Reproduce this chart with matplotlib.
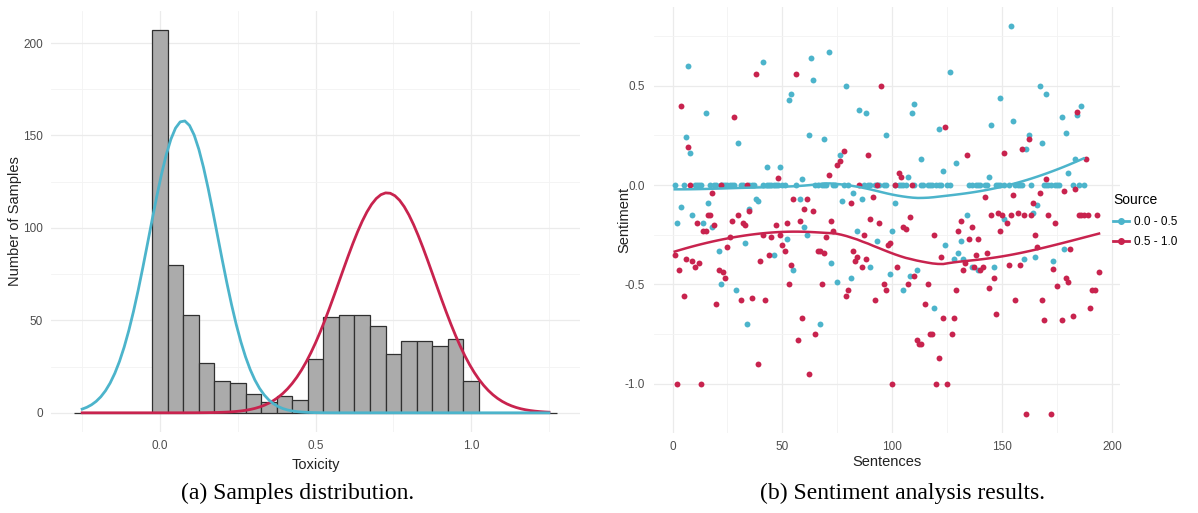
import numpy as np
import matplotlib
matplotlib.use("Agg")
from matplotlib import pyplot as plt
from matplotlib.lines import Line2D

# ---- left panel: toxicity histogram (bin width 0.05) ----
bin_centers = np.round(np.arange(-0.25, 1.2501, 0.05), 3)
bin_counts = [0, 0, 0, 0, 0,
              207, 80, 53, 27, 17, 16, 10, 6, 9, 7,
              29, 52, 53, 53, 47, 32, 39, 39, 36, 40, 17,
              0, 0, 0, 0, 0]

# fitted normal curves (mean, sd, peak height)
low_fit = (0.075, 0.11, 158)
high_fit = (0.73, 0.152, 119)

# ---- right panel: sentiment per sentence ----
blue_pts = [(7, 0.60), (41, 0.62), (63, 0.64), (71, 0.67), (154, 0.80), (126, 0.57), (64, 0.53),
            (54, 0.46), (53, 0.43), (79, 0.50), (15, 0.36), (85, 0.38), (88, 0.36), (110, 0.41),
            (109, 0.36), (167, 0.50), (170, 0.46), (149, 0.44), (155, 0.32), (145, 0.30), (177, 0.34),
            (186, 0.40), (184, 0.35), (6, 0.24), (8, 0.16), (30, 0.21), (62, 0.25), (69, 0.23),
            (97, 0.25), (121, 0.28), (162, 0.25), (179, 0.26), (168, 0.21), (76, 0.15), (113, 0.13),
            (161, 0.18), (183, 0.13), (43, 0.09), (49, 0.09), (59, 0.03), (107, 0.04), (123, 0.07),
            (129, 0.11), (144, 0.04), (180, 0.06),
            (2, -0.19), (4, -0.11), (9, -0.15), (16, -0.09), (14, -0.19), (18, -0.21), (21, -0.33),
            (22, -0.50), (29, -0.53), (35, -0.12), (33, -0.29), (34, -0.70), (38, -0.07), (39, -0.08),
            (46, -0.35), (52, -0.27), (55, -0.43), (58, -0.07), (60, -0.21), (61, -0.25), (67, -0.70),
            (72, -0.39), (75, -0.49), (81, -0.47), (82, -0.04), (77, -0.08), (84, -0.23), (86, -0.07),
            (90, -0.41), (93, -0.28), (99, -0.45), (100, -0.23), (101, -0.09), (105, -0.53), (108, -0.46),
            (111, -0.43), (119, -0.62), (124, -0.30), (128, -0.37), (130, -0.34), (131, -0.28),
            (132, -0.37), (134, -0.15), (136, -0.41), (139, -0.43), (146, -0.41), (151, -0.17),
            (160, -0.37), (164, -0.14), (166, -0.10), (165, -0.36), (173, -0.38), (178, -0.32)]
blue_zero_x = [1, 5, 10, 11, 12, 13, 17, 19, 20, 22, 23, 24, 25, 26, 27, 28, 31, 32, 35, 36, 37,
               41, 43, 44, 45, 46, 47, 48, 50, 51, 56, 65, 66, 68, 69, 70, 73, 74, 78, 80, 87, 89,
               90, 92, 93, 94, 96, 97, 101, 103, 104, 105, 106, 110, 113, 114, 116, 117, 118, 120,
               121, 122, 125, 126, 135, 136, 138, 139, 140, 142, 143, 147, 148, 149, 151, 153, 156,
               157, 158, 159, 163, 169, 170, 171, 172, 174, 175, 176, 182, 185, 187]

red_pts = [(4, 0.40), (7, 0.19), (8, 0.0), (1, -0.35), (2, -1.0), (3, -0.43), (5, -0.56), (6, -0.37),
           (9, -0.38), (10, -0.41), (11, -0.19), (12, -0.39), (13, -1.0), (14, -0.23), (15, -0.23),
           (16, -0.15), (17, -0.15), (18, -0.04), (19, -0.20), (20, -0.60), (21, -0.43), (22, 0.0),
           (23, -0.44), (24, -0.47), (25, -0.31), (26, -0.26), (27, -0.18), (28, 0.34), (30, -0.15),
           (31, -0.58), (32, -0.19), (33, -0.20), (34, 0.0), (35, -0.13), (36, -0.57), (38, 0.56),
           (39, -0.90), (40, -0.38), (41, -0.25), (42, -0.58), (44, -0.35), (45, -0.26), (47, -0.20),
           (48, 0.035), (49, -0.25), (50, -0.30), (51, -0.33), (52, -0.19), (53, -0.50), (54, -0.40),
           (55, -0.07), (56, 0.56), (57, -0.78), (58, -0.18), (59, -0.67), (60, -0.12), (61, -0.07),
           (62, -0.95), (64, -0.13), (65, -0.75), (66, -0.33), (67, -0.33), (68, -0.50), (69, -0.34),
           (70, -0.26), (71, 0.05), (72, -0.18), (73, -0.23), (75, 0.10), (76, 0.12), (78, 0.17),
           (79, -0.56), (80, -0.53), (81, -0.09), (82, -0.33), (83, -0.38), (84, -0.36), (85, 0.0),
           (86, -0.41), (87, -0.25), (88, -0.37), (89, 0.15), (90, -0.17), (91, -0.06), (92, -0.58),
           (93, 0.0), (94, -0.19), (95, 0.50), (96, -0.50), (97, -0.53), (98, -0.30), (99, -0.29),
           (100, -1.0), (101, 0.0), (102, -0.41), (103, 0.06), (104, 0.04), (105, -0.21), (106, -0.22),
           (107, -0.50), (108, -0.16), (109, 0.0), (110, -0.46), (111, -0.78), (112, -0.80),
           (113, -0.80), (115, -0.60), (116, -0.50), (117, -0.75), (118, -0.75), (119, -0.25),
           (120, -1.0), (121, -0.87), (122, -0.36), (123, -0.67), (124, 0.29), (125, -1.0),
           (127, -0.75), (128, -0.67), (129, -0.53), (130, -0.23), (131, -0.18), (132, -0.43),
           (133, -0.39), (134, 0.15), (135, -0.27), (136, -0.21), (137, -0.41), (138, -0.35),
           (139, -0.27), (140, -0.43), (141, -0.41), (142, -0.06), (143, -0.34), (144, -0.52),
           (145, -0.15), (146, -0.47), (147, -0.65), (148, -0.14), (149, -0.23), (150, -0.15),
           (151, 0.16), (152, -0.19), (153, -0.40), (154, -0.15), (155, -0.05), (156, -0.58),
           (157, -0.14), (158, -0.40), (159, 0.18), (160, -0.15), (161, -1.15), (162, 0.23),
           (163, -0.15), (164, -0.09), (165, -0.25), (166, -0.31), (167, -0.04), (168, -0.58),
           (169, -0.68), (170, 0.03), (171, -0.15), (172, -1.15), (173, -0.42), (174, -0.19),
           (175, -0.51), (177, -0.68), (178, -0.03), (179, -0.47), (180, -0.49), (181, -0.32),
           (182, -0.66), (183, -0.02), (184, 0.37), (185, -0.15), (186, -0.15), (187, -0.15),
           (188, 0.13), (189, -0.15), (190, -0.62), (191, -0.53), (192, -0.53), (193, -0.15),
           (194, -0.44)]

legend_labels = ["0.0 - 0.5", "0.5 - 1.0"]

BLUE = "#4cb4cb"
RED = "#c8234e"
GRID = "#ebebeb"
TICK = "#4d4d4d"


def loess(x, y, xs, span=0.75):
    # local quadratic fit with tricube weights, like ggplot's default smoother
    n = len(x)
    q = int(np.floor(n * span))
    res = []
    for x0 in xs:
        d = np.abs(x - x0)
        h = np.sort(d)[q - 1]
        w = np.clip(1 - (d / h) ** 3, 0, None) ** 3
        A = np.vstack([np.ones(n), x - x0, (x - x0) ** 2]).T
        sw = np.sqrt(w)
        coef = np.linalg.lstsq(A * sw[:, None], y * sw, rcond=None)[0]
        res.append(coef[0])
    return np.array(res)


def gauss(xs, fit):
    m, s, peak = fit
    return peak * np.exp(-(xs - m) ** 2 / (2 * s ** 2))


def style(ax):
    for sp in ax.spines.values():
        sp.set_visible(False)
    ax.grid(which="major", color=GRID, lw=0.9)
    ax.grid(which="minor", color="#f3f3f3", lw=0.6)
    ax.set_axisbelow(True)
    ax.tick_params(which="both", length=0, labelsize=8.5, labelcolor=TICK, pad=6)


plt.rcParams["font.family"] = ["Liberation Sans", "DejaVu Sans"]
fig = plt.figure(figsize=(11.98, 5.13), dpi=100)

# left
ax1 = fig.add_axes([0.0426, 0.158, 0.4416, 0.8207])
ax1.bar(bin_centers, bin_counts, width=0.05, color="#ababab", edgecolor="#303030", linewidth=0.9, zorder=2)
xs = np.linspace(-0.25, 1.25, 101)
ax1.plot(xs, gauss(xs, high_fit), color=RED, lw=2, zorder=3)
ax1.plot(xs, gauss(xs, low_fit), color=BLUE, lw=2, zorder=3)
ax1.set_xlim(-0.35, 1.35)
ax1.set_ylim(-10.35, 217.35)
ax1.set_xticks([0, 0.5, 1.0])
ax1.set_xticklabels(["0.0", "0.5", "1.0"])
ax1.set_xticks([-0.25, 0.25, 0.75, 1.25], minor=True)
ax1.set_yticks([0, 50, 100, 150, 200])
ax1.set_yticks([25, 75, 125, 175], minor=True)
style(ax1)
ax1.set_xlabel("Toxicity", fontsize=10.5, color="#222222", labelpad=4)
ax1.set_ylabel("Number of Samples", fontsize=10.5, color="#222222")
ax1.yaxis.set_label_coords(-0.054, 0.5)

# right
bx = np.array([p[0] for p in blue_pts] + blue_zero_x, dtype=float)
by = np.array([p[1] for p in blue_pts] + [0.0] * len(blue_zero_x))
rx = np.array([p[0] for p in red_pts], dtype=float)
ry = np.array([p[1] for p in red_pts])

ax2 = fig.add_axes([0.5455, 0.156, 0.3896, 0.831])
ax2.scatter(bx, by, s=18, color=BLUE, linewidths=0, zorder=2)
ax2.scatter(rx, ry, s=18, color=RED, linewidths=0, zorder=2)
gb = np.linspace(bx.min(), bx.max(), 80)
gr = np.linspace(rx.min(), rx.max(), 80)
ax2.plot(gb, loess(bx, by, gb), color=BLUE, lw=1.8, zorder=3)
ax2.plot(gr, loess(rx, ry, gr), color=RED, lw=1.8, zorder=3)
ax2.set_xlim(-8.65, 203.65)
ax2.set_ylim(-1.2475, 0.8975)
ax2.set_xticks([0, 50, 100, 150, 200])
ax2.set_xticks([25, 75, 125, 175], minor=True)
ax2.set_yticks([-1.0, -0.5, 0.0, 0.5])
ax2.set_yticklabels(["-1.0", "-0.5", "0.0", "0.5"])
ax2.set_yticks([-0.75, -0.25, 0.25, 0.75], minor=True)
style(ax2)
ax2.set_xlabel("Sentences", fontsize=10.5, color="#222222", labelpad=1)
ax2.set_ylabel("Sentiment", fontsize=10.5, color="#222222")
ax2.yaxis.set_label_coords(-0.047, 0.5)

handles = [Line2D([0], [0], color=BLUE, lw=2, marker="o", ms=4),
           Line2D([0], [0], color=RED, lw=2, marker="o", ms=4)]
leg = fig.legend(handles, legend_labels, title="Source", loc="upper left",
                 bbox_to_anchor=(1104 / 1198, 1 - 184 / 513), frameon=False,
                 fontsize=8.5, title_fontsize=10, handlelength=1.3, handletextpad=0.4,
                 labelspacing=0.7, borderpad=0.3)
leg._legend_box.align = "left"

fig.text(298 / 1198, 1 - 493 / 513, "(a) Samples distribution.", ha="center", va="center",
         fontsize=17, family="Liberation Serif")
fig.text(903 / 1198, 1 - 493 / 513, "(b) Sentiment analysis results.", ha="center", va="center",
         fontsize=17, family="Liberation Serif")

fig.savefig("out.png", dpi=100)
